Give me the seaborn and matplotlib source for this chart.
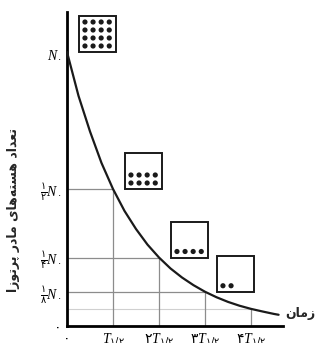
import numpy as np
import pandas as pd
import matplotlib
matplotlib.use("Agg")
import matplotlib.pyplot as plt
import seaborn as sns
from matplotlib.patches import Rectangle

# ---------------- data ----------------
t_values = [0.0, 0.25, 0.5, 0.75, 1.0, 1.25, 1.5, 1.75, 2.0, 2.25, 2.5, 2.75,
            3.0, 3.25, 3.5, 3.75, 4.0, 4.25, 4.5, 4.6]
n_values = [1.0, 0.84, 0.71, 0.595, 0.5, 0.42, 0.354, 0.297, 0.25, 0.21, 0.177,
            0.149, 0.125, 0.105, 0.088, 0.074, 0.0625, 0.053, 0.044, 0.041]

half_life_steps = [1, 2, 3, 4]
half_life_fracs = [0.5, 0.25, 0.125, 0.0625]

box_times = [0, 1, 2, 3]
box_fracs = [1.0, 0.5, 0.25, 0.125]
box_counts = [16, 8, 4, 2]

x_tick_pos = [0, 1, 2, 3, 4]
x_tick_labels = ["۰", r"$T_{\mathrm{۱/۲}}$", r"$\mathrm{۲}T_{\mathrm{۱/۲}}$",
                 r"$\mathrm{۳}T_{\mathrm{۱/۲}}$", r"$\mathrm{۴}T_{\mathrm{۱/۲}}$"]
y_tick_pos = [0, 0.125, 0.25, 0.5, 1.0]
y_tick_labels = ["۰",
                 r"$\frac{\mathrm{۱}}{\mathrm{۸}}N_{\mathrm{۰}}$",
                 r"$\frac{\mathrm{۱}}{\mathrm{۴}}N_{\mathrm{۰}}$",
                 r"$\frac{\mathrm{۱}}{\mathrm{۲}}N_{\mathrm{۰}}$",
                 r"$N_{\mathrm{۰}}$"]

x_label = "زمان"
y_label = "تعداد هسته‌های مادر پرتوزا"

# ------------- minimal Arabic/Persian shaping -------------
DUAL = {
    'ت': (0xFE95, 0xFE96, 0xFE97, 0xFE98),
    'ع': (0xFEC9, 0xFECA, 0xFECB, 0xFECC),
    'ه': (0xFEE9, 0xFEEA, 0xFEEB, 0xFEEC),
    'س': (0xFEB1, 0xFEB2, 0xFEB3, 0xFEB4),
    'ی': (0xFBFC, 0xFBFD, 0xFBFE, 0xFBFF),
    'م': (0xFEE1, 0xFEE2, 0xFEE3, 0xFEE4),
    'پ': (0xFB56, 0xFB57, 0xFB58, 0xFB59),
    'ن': (0xFEE5, 0xFEE6, 0xFEE7, 0xFEE8),
}
RIGHT = {
    'ا': (0xFE8D, 0xFE8E),
    'د': (0xFEA9, 0xFEAA),
    'ر': (0xFEAD, 0xFEAE),
    'و': (0xFEED, 0xFEEE),
    'ز': (0xFEAF, 0xFEB0),
}


def shape(s):
    out = []
    for i, c in enumerate(s):
        prev = s[i - 1] if i > 0 else ''
        nxt = s[i + 1] if i + 1 < len(s) else ''
        if c == '\u200c':
            continue
        if c in DUAL or c in RIGHT:
            jp = prev in DUAL
            jn = c in DUAL and (nxt in DUAL or nxt in RIGHT)
            forms = DUAL.get(c) or RIGHT.get(c)
            if jp and jn:
                idx = 3
            elif jp:
                idx = 1
            elif jn:
                idx = 2
            else:
                idx = 0
            out.append(chr(forms[idx]))
        else:
            out.append(c)
    return ''.join(out[::-1])


# ---------------- figure ----------------
sns.set_theme(style="white")
plt.rcParams['font.family'] = ['DejaVu Sans']
plt.rcParams['mathtext.fontset'] = 'custom'
plt.rcParams['mathtext.it'] = 'Liberation Serif:italic'
plt.rcParams['mathtext.rm'] = 'DejaVu Sans'

W, H = 328, 343
fig = plt.figure(figsize=(W / 100, H / 100), dpi=100)
ax = fig.add_axes([67 / W, (H - 326) / H, (283 - 67) / W, (326 - 12) / H])
ax.set_xlim(0, (283 - 67) / 46)
ax.set_ylim(0, (326 - 12) / 274)

# guide lines
ax.hlines(half_life_fracs[:3], 0, half_life_steps[:3], color="#8c8c8c", lw=0.9, zorder=1)
ax.hlines(half_life_fracs[3:], 0, half_life_steps[3:], color="#d0d0d0", lw=0.8, zorder=1)
ax.vlines(half_life_steps, 0, half_life_fracs, color="#8c8c8c", lw=0.9, zorder=1)

# decay curve
df = pd.DataFrame({"t": t_values, "n": n_values})
sns.lineplot(data=df, x="t", y="n", ax=ax, color="#1a1a1a", lw=1.6, zorder=3)

# boxes with dots
bw, bh = 37 / 46, 36 / 274
dx = 8.1 / 46
dy = 8 / 274
ox, oy = 6 / 46, 6 / 274
dot_x, dot_y = [], []
for t0, f0, cnt in zip(box_times, box_fracs, box_counts):
    x0 = t0 + 0.26
    y0 = f0
    ax.add_patch(Rectangle((x0, y0), bw, bh, fill=True, facecolor="white",
                           edgecolor="#1a1a1a", lw=1.4, zorder=4))
    for k in range(cnt):
        r, c = divmod(k, 4)
        dot_x.append(x0 + ox + c * dx)
        dot_y.append(y0 + oy + r * dy)
sns.scatterplot(x=dot_x, y=dot_y, ax=ax, color="#1a1a1a", s=14, edgecolor="none",
                zorder=5)

# axes styling
sns.despine(ax=ax)
for sp in ("left", "bottom"):
    ax.spines[sp].set_linewidth(2.0)
    ax.spines[sp].set_color("black")
ax.set_xticks(x_tick_pos)
ax.set_xticklabels(x_tick_labels, fontsize=10)
ax.set_yticks(y_tick_pos)
ax.set_yticklabels(y_tick_labels, fontsize=10)
ax.tick_params(axis="both", length=0, pad=4, colors="black")
ax.set_xlabel("")
ax.set_ylabel("")

fig.text(300 / W, 1 - 313 / H, shape(x_label), ha="center", va="center",
         fontsize=9, fontweight="bold")
fig.text(14 / W, 1 - 210 / H, shape(y_label), ha="center", va="center",
         fontsize=9, fontweight="bold", rotation=90)

fig.savefig("out.png", dpi=100, facecolor="white")
